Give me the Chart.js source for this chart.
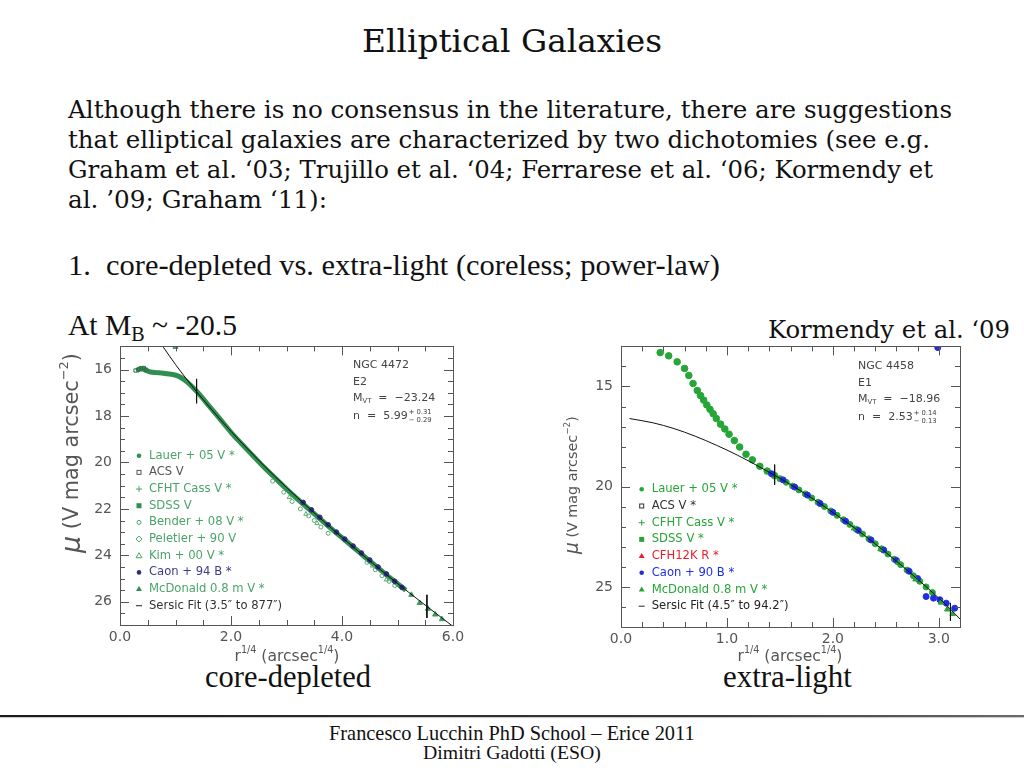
<!DOCTYPE html>
<html>
<head>
<meta charset="utf-8">
<script src="https://cdn.jsdelivr.net/npm/chart.js@4.4.0/dist/chart.umd.min.js"></script>
<style>
  html, body { margin: 0; padding: 0; background: #fff; }
  body { width: 1024px; height: 768px; position: relative; overflow: hidden; }
  .t { position: absolute; white-space: pre; line-height: 1.2; color: #111; left: 0; top: 0; }
  .sa { font-family: "DejaVu Serif", serif; font-stretch: semi-condensed; }
  .sb { font-family: "Liberation Serif", serif; }
  canvas { position: absolute; }
  #rule { position: absolute; left: 0; top: 715px; width: 1024px; height: 2px;
          background: linear-gradient(to right, #1a1a1a, #3a3a3a 70%, #6a6a6a);
          box-shadow: 0 1px 1px #c8c8c8; }
</style>
</head>
<body>
<div class="t sa" data-x="512" data-base="52" data-w="300" data-align="center" style="font-size:31px">Elliptical Galaxies</div>

<div class="t sa" data-x="68" data-base="118" data-w="884" style="font-size:25px">Although there is no consensus in the literature, there are suggestions</div>
<div class="t sa" data-x="68" data-base="148" data-w="862" style="font-size:25px">that elliptical galaxies are characterized by two dichotomies (see e.g.</div>
<div class="t sa" data-x="68" data-base="178" data-w="865" style="font-size:25px">Graham et al. ‘03; Trujillo et al. ‘04; Ferrarese et al. ‘06; Kormendy et</div>
<div class="t sa" data-x="68" data-base="208" data-w="259" style="font-size:25px">al. ’09; Graham ‘11):</div>

<div class="t sb" data-x="68" data-base="275" data-w="652" data-fit="size" style="font-size:24px">1.  core-depleted vs. extra-light (coreless; power-law)</div>
<div class="t sb" data-x="68" data-base="335" data-w="169" data-fit="size" style="font-size:24px">At M<span style="font-size:0.68em;vertical-align:-0.3em">B</span> ~ -20.5</div>
<div class="t sa" data-x="768" data-base="338" data-w="242" style="font-size:25px">Kormendy et al. ‘09</div>

<div class="t sb" data-x="205" data-base="687" data-w="166" data-fit="size" style="font-size:24px">core-depleted</div>
<div class="t sb" data-x="723" data-base="687" data-w="129" data-fit="size" style="font-size:24px">extra-light</div>

<div id="rule"></div>
<div class="t sb" data-x="512" data-base="740" data-w="366" data-align="center" data-fit="size" style="font-size:16px">Francesco Lucchin PhD School – Erice 2011</div>
<div class="t sb" data-x="512" data-base="759" data-w="178" data-align="center" data-fit="size" style="font-size:16px">Dimitri Gadotti (ESO)</div>

<canvas id="leftChart" width="420" height="340" style="left:55px;top:330px;width:420px;height:340px"></canvas>
<canvas id="rightChart" width="420" height="340" style="left:555px;top:330px;width:420px;height:340px"></canvas>

<script>
// ---------- NGC 4472 (core-depleted) ----------
const leftXTicks = [0, 2, 4, 6];
const leftYTicks = [16, 18, 20, 22, 24, 26];

const leftBandX = [0.30, 0.36, 0.42, 0.48, 0.55, 0.65, 0.75, 0.85, 0.95, 1.05, 1.15, 1.25, 1.35, 1.45, 1.60, 1.80, 2.00, 2.20, 2.40, 2.60, 2.80, 3.00, 3.20, 3.40, 3.60, 3.80, 4.00, 4.20, 4.40, 4.60, 4.80, 5.00, 5.15];
const leftBandY = [16.05, 15.96, 15.98, 16.05, 16.10, 16.13, 16.15, 16.18, 16.21, 16.28, 16.42, 16.62, 16.86, 17.12, 17.55, 18.12, 18.70, 19.22, 19.72, 20.22, 20.68, 21.14, 21.58, 22.00, 22.42, 22.84, 23.24, 23.64, 24.05, 24.44, 24.84, 25.22, 25.50];

const leftAcsX = [0.28, 0.33, 0.38, 0.43, 0.47];
const leftAcsY = [16.04, 16.00, 15.94, 15.93, 16.00];

const leftBenderX = [2.75, 2.95, 3.10, 3.25, 3.40, 3.50, 3.62, 3.75, 4.45, 4.60, 4.72, 4.85, 4.95];
const leftBenderY = [20.80, 21.28, 21.68, 22.00, 22.30, 22.50, 22.78, 23.05, 24.30, 24.62, 24.88, 25.12, 25.30];

const leftKimX = [3.05, 3.35, 3.55, 4.55, 4.80];
const leftKimY = [21.50, 22.22, 22.62, 24.45, 25.05];

const leftCaonX = [3.30, 3.45, 3.60, 3.75, 3.90, 4.05, 4.20, 4.35, 4.50, 4.65, 4.80, 4.95, 5.08];
const leftCaonY = [21.72, 22.04, 22.36, 22.68, 23.00, 23.30, 23.60, 23.90, 24.20, 24.50, 24.80, 25.12, 25.38];

const leftMcdX = [5.25, 5.40, 5.55, 5.68, 5.80, 1.00];
const leftMcdY = [25.70, 26.05, 26.30, 26.55, 26.75, 15.02];

const leftSersicX = [0.78, 1.00, 1.20, 1.40, 1.60, 1.80, 2.00, 2.40, 2.80, 3.20, 3.60, 4.00, 4.40, 4.80, 5.20, 5.60, 6.00];
const leftSersicY = [15.03, 15.78, 16.41, 17.01, 17.58, 18.13, 18.66, 19.67, 20.62, 21.52, 22.39, 23.23, 24.04, 24.83, 25.59, 26.33, 27.06];

const leftFitMarks = [[1.38, 16.40, 17.45], [5.53, 25.70, 26.70]];

const leftLegend = ["Lauer + 05 V *", "ACS V", "CFHT Cass V *", "SDSS V", "Bender + 08 V *", "Peletier + 90 V", "Kim + 00 V *", "Caon + 94 B *", "McDonald 0.8 m V *", "Sersic Fit (3.5\u2033 to 877\u2033)"];

// ---------- NGC 4458 (extra-light) ----------
const rightXTicks = [0, 1, 2, 3];
const rightYTicks = [15, 20, 25];

const rightLauerX = [0.37, 0.45, 0.53, 0.60, 0.64, 0.68, 0.72, 0.75, 0.78, 0.81, 0.84, 0.87, 0.90, 0.94, 0.98, 1.02, 1.07, 1.12, 1.18, 1.24, 1.31, 1.38, 1.45];
const rightLauerY = [13.31, 13.47, 13.77, 14.10, 14.45, 14.85, 15.20, 15.45, 15.68, 15.92, 16.14, 16.36, 16.60, 16.88, 17.12, 17.38, 17.70, 18.02, 18.38, 18.66, 18.98, 19.22, 19.45];

const rightGreenX = [1.50, 1.56, 1.62, 1.68, 1.74, 1.80, 1.86, 1.92, 1.98, 2.04, 2.10, 2.16, 2.22, 2.28, 2.34, 2.40, 2.46, 2.52, 2.58, 2.64, 2.70, 2.76, 2.82, 2.88, 2.94];
const rightGreenY = [19.60, 19.78, 19.97, 20.16, 20.36, 20.56, 20.78, 20.99, 21.21, 21.43, 21.65, 21.88, 22.12, 22.36, 22.60, 22.85, 23.10, 23.36, 23.62, 23.89, 24.16, 24.44, 24.72, 25.00, 25.28];

const rightCaonX = [1.42, 1.53, 1.64, 1.76, 1.88, 2.00, 2.12, 2.24, 2.36, 2.48, 2.60, 2.72, 2.80, 2.88, 2.95, 3.01, 3.07, 3.15, 2.99];
const rightCaonY = [19.35, 19.66, 20.02, 20.42, 20.84, 21.28, 21.72, 22.18, 22.66, 23.16, 23.68, 24.22, 24.58, 25.48, 25.56, 25.64, 25.81, 26.06, 13.06];

const rightMcdX = [2.20, 2.45, 2.62, 2.78, 3.02, 3.08, 3.13];
const rightMcdY = [22.08, 23.12, 23.80, 24.62, 25.78, 26.12, 26.35];

const rightSersicX = [0.08, 0.30, 0.50, 0.70, 0.90, 1.10, 1.30, 1.50, 1.70, 1.90, 2.10, 2.30, 2.50, 2.70, 2.90, 3.00, 3.10, 3.20];
const rightSersicY = [16.60, 16.81, 17.10, 17.48, 17.93, 18.43, 18.99, 19.58, 20.22, 20.92, 21.66, 22.44, 23.28, 24.16, 25.08, 25.56, 26.06, 26.60];

const rightFitMarks = [[1.45, 18.90, 19.90], [3.11, 25.80, 26.70]];

const rightLegend = ["Lauer + 05 V *", "ACS V *", "CFHT Cass V *", "SDSS V *", "CFH12K R *", "Caon + 90 B *", "McDonald 0.8 m V *", "Sersic Fit (4.5\u2033 to 94.2\u2033)"];

// ---------- slide text placement ----------
function placeText() {
  document.querySelectorAll(".t").forEach((el) => {
    const w = +el.dataset.w;
    const mark = document.createElement("span");
    mark.style.cssText = "display:inline-block;width:0;height:0;vertical-align:baseline";
    el.appendChild(mark);
    let box = el.getBoundingClientRect();
    if (el.dataset.fit === "size") {
      const fs = parseFloat(el.style.fontSize);
      el.style.fontSize = (fs * w / box.width) + "px";
      box = el.getBoundingClientRect();
    } else {
      el.style.transformOrigin = "0 0";
      el.style.transform = `scaleX(${w / box.width})`;
    }
    const baseOff = mark.getBoundingClientRect().top - box.top;
    const x = +el.dataset.x;
    const align = el.dataset.align || "left";
    const left = align === "center" ? x - w / 2 : align === "right" ? x - w : x;
    el.style.left = left + "px";
    el.style.top = (+el.dataset.base - baseOff) + "px";
  });
}
placeText();

// ---------- chart helpers ----------
const pts = (xs, ys) => xs.map((x, i) => ({ x, y: ys[i] }));
const PLOT_FONT = '"DejaVu Sans", sans-serif';

const runsWidth = (ctx, runs, size) =>
  runs.reduce((w, [t, k, , st = ""]) => {
    ctx.font = `${st} ${size * k}px ${PLOT_FONT}`;
    return w + ctx.measureText(t).width;
  }, 0);

const drawRuns = (ctx, runs, x, y, size) => {
  let cx = x;
  runs.forEach(([t, k, dy = 0, st = ""]) => {
    ctx.font = `${st} ${size * k}px ${PLOT_FONT}`;
    ctx.fillText(t, cx, y + dy * size);
    cx += ctx.measureText(t).width;
  });
  return cx;
};

const drawFitted = (ctx, runs, cx, cy, length, rotate) => {
  const size = 20 * length / runsWidth(ctx, runs, 20);
  ctx.save();
  ctx.translate(cx, cy);
  if (rotate) ctx.rotate(-Math.PI / 2);
  ctx.textBaseline = "middle";
  drawRuns(ctx, runs, -length / 2, 0, size);
  ctx.restore();
};

const drawSym = (ctx, kind, x, y, color) => {
  ctx.save();
  ctx.fillStyle = color;
  ctx.strokeStyle = color;
  ctx.lineWidth = 1;
  ctx.beginPath();
  if (kind === "dot") { ctx.arc(x, y, 2.3, 0, Math.PI * 2); ctx.fill(); }
  else if (kind === "ring") { ctx.arc(x, y, 2, 0, Math.PI * 2); ctx.stroke(); }
  else if (kind === "sq") { ctx.strokeRect(x - 2, y - 2, 4, 4); }
  else if (kind === "fsq") { ctx.fillRect(x - 2.5, y - 2.5, 5, 5); }
  else if (kind === "plus") { ctx.moveTo(x - 3, y); ctx.lineTo(x + 3, y); ctx.moveTo(x, y - 3); ctx.lineTo(x, y + 3); ctx.stroke(); }
  else if (kind === "diamond") { ctx.moveTo(x, y - 3); ctx.lineTo(x + 3, y); ctx.lineTo(x, y + 3); ctx.lineTo(x - 3, y); ctx.closePath(); ctx.stroke(); }
  else if (kind === "tri") { ctx.moveTo(x, y - 3); ctx.lineTo(x + 3, y + 2); ctx.lineTo(x - 3, y + 2); ctx.closePath(); ctx.stroke(); }
  else if (kind === "ftri") { ctx.moveTo(x, y - 3); ctx.lineTo(x + 3, y + 2); ctx.lineTo(x - 3, y + 2); ctx.closePath(); ctx.fill(); }
  else if (kind === "dash") { ctx.moveTo(x - 3, y); ctx.lineTo(x + 3, y); ctx.stroke(); }
  ctx.restore();
};

// frame with inward major and minor ticks on all four sides
const framePlugin = {
  id: "frame",
  afterDatasetsDraw(chart, args, o) {
    const { ctx, chartArea: a, scales: { x, y } } = chart;
    ctx.save();
    ctx.strokeStyle = "#555";
    ctx.lineWidth = 1;
    ctx.strokeRect(Math.round(a.left) + 0.5, Math.round(a.top) + 0.5, Math.round(a.right - a.left), Math.round(a.bottom - a.top));
    ctx.beginPath();
    const isMajor = (v, m) => Math.abs(v / m - Math.round(v / m)) < 1e-6;
    for (let i = 0; ; i++) {
      const v = x.min + i * o.xMinor;
      if (v > x.max + 1e-9) break;
      const px = Math.round(x.getPixelForValue(v)) + 0.5;
      const len = isMajor(v, o.xMajor) ? 9 : 5;
      ctx.moveTo(px, a.top); ctx.lineTo(px, a.top + len);
      ctx.moveTo(px, a.bottom); ctx.lineTo(px, a.bottom - len);
    }
    for (let i = 0; ; i++) {
      const v = y.min + i * o.yMinor;
      if (v > y.max + 1e-9) break;
      const py = Math.round(y.getPixelForValue(v)) + 0.5;
      const len = isMajor(v, o.yMajor) ? 9 : 5;
      ctx.moveTo(a.left, py); ctx.lineTo(a.left + len, py);
      ctx.moveTo(a.right, py); ctx.lineTo(a.right - len, py);
    }
    ctx.stroke();
    ctx.restore();
  },
};

// legend, galaxy info and axis titles
const notesPlugin = {
  id: "notes",
  afterDraw(chart, args, o) {
    const { ctx } = chart;
    ctx.save();
    ctx.textBaseline = "middle";
    o.legend.forEach((label, i) => {
      const cy = o.legendTop + i * o.legendStep;
      drawSym(ctx, o.symbols[i], o.legendX, cy, o.symColors[i]);
      ctx.fillStyle = o.textColors[i];
      ctx.font = `11.6px ${PLOT_FONT}`;
      ctx.fillText(label, o.legendX + 10, cy);
    });
    ctx.fillStyle = "#444";
    const [ix, iy] = o.infoAt;
    drawRuns(ctx, [[o.info[0], 1]], ix, iy, 11);
    drawRuns(ctx, [[o.info[1], 1]], ix, iy + 17, 11);
    drawRuns(ctx, [["M", 1], ["VT", 0.62, 0.3], ["  =  " + o.info[2], 1]], ix, iy + 33, 11);
    const nx = drawRuns(ctx, [["n  =  " + o.info[3], 1]], ix, iy + 51, 11);
    drawRuns(ctx, [["+ " + o.info[4], 0.62, -0.38]], nx + 1, iy + 51, 11);
    drawRuns(ctx, [["\u2212 " + o.info[5], 0.62, 0.38]], nx + 1, iy + 51, 11);
    ctx.fillStyle = "#555";
    drawFitted(ctx, [["\u03bc", 1.3, 0, "italic"], [" (V mag arcsec", 1], ["\u22122", 0.62, -0.4], [")", 1]], o.yTitle[0], o.yTitle[1], o.yTitle[2], true);
    drawFitted(ctx, [["r", 1], ["1/4", 0.62, -0.4], [" (arcsec", 1], ["1/4", 0.62, -0.4], [")", 1]], o.xTitle[0], o.xTitle[1], o.xTitle[2], false);
    ctx.restore();
  },
};

const fitMarkSets = (marks) =>
  marks.map(([x, y0, y1]) => ({
    data: [{ x, y: y0 }, { x, y: y1 }],
    showLine: true, borderColor: "#111", borderWidth: 1, pointRadius: 0,
  }));

const makeChart = (id, datasets, ax, notes) =>
  new Chart(document.getElementById(id), {
    type: "scatter",
    data: { datasets },
    options: {
      responsive: false,
      animation: false,
      events: [],
      layout: { padding: ax.padding },
      plugins: { legend: { display: false }, tooltip: { enabled: false }, frame: ax.frame, notes },
      scales: {
        x: {
          type: "linear", min: ax.xMin, max: ax.xMax,
          grid: { display: false, drawTicks: false }, border: { display: false },
          afterBuildTicks: (s) => { s.ticks = ax.xTicks.map((value) => ({ value })); },
          afterFit: (s) => { s.height = ax.xHeight; },
          ticks: { padding: 4, color: "#555", font: { family: PLOT_FONT, size: 14 }, maxRotation: 0, callback: (v) => v.toFixed(1) },
        },
        y: {
          type: "linear", min: ax.yMin, max: ax.yMax, reverse: true,
          grid: { display: false, drawTicks: false }, border: { display: false },
          afterBuildTicks: (s) => { s.ticks = ax.yTicks.map((value) => ({ value })); },
          afterFit: (s) => { s.width = ax.yWidth; },
          ticks: { padding: 8, color: "#555", font: { family: PLOT_FONT, size: 14 }, callback: (v) => String(v) },
        },
      },
    },
    plugins: [framePlugin, notesPlugin],
  });

const GREEN_L = "#2e8f50";
const NAVY = "#2b2d80";

makeChart(
  "leftChart",
  [
    { data: pts(leftSersicX, leftSersicY), showLine: true, borderColor: "#111", borderWidth: 1, pointRadius: 0, cubicInterpolationMode: "monotone" },
    ...fitMarkSets(leftFitMarks),
    { data: pts(leftMcdX, leftMcdY), pointStyle: "triangle", pointRadius: 3, backgroundColor: "#3a9a5c", borderColor: "#3a9a5c" },
    { data: pts(leftCaonX, leftCaonY), pointRadius: 2.3, backgroundColor: NAVY, borderColor: NAVY },
    { data: pts(leftKimX, leftKimY), pointStyle: "triangle", pointRadius: 2.5, backgroundColor: "rgba(0,0,0,0)", borderColor: "#5aaa70", borderWidth: 1 },
    { data: pts(leftBenderX, leftBenderY), pointRadius: 2, backgroundColor: "rgba(0,0,0,0)", borderColor: "#5aaa70", borderWidth: 1 },
    { data: pts(leftAcsX, leftAcsY), pointStyle: "rect", pointRadius: 2.3, backgroundColor: "rgba(0,0,0,0)", borderColor: "#2f6f45", borderWidth: 1 },
    { data: pts(leftBandX, leftBandY), showLine: true, borderColor: GREEN_L, borderWidth: 5, pointRadius: 0, cubicInterpolationMode: "monotone" },
  ],
  {
    xMin: 0, xMax: 6, yMin: 15, yMax: 27, xTicks: leftXTicks, yTicks: leftYTicks,
    padding: { left: 0, right: 22, top: 16, bottom: 0 }, yWidth: 65, xHeight: 45,
    frame: { xMinor: 0.5, xMajor: 2, yMinor: 0.5, yMajor: 2 },
  },
  {
    legend: leftLegend,
    symbols: ["dot", "sq", "plus", "fsq", "ring", "diamond", "tri", "dot", "ftri", "dash"],
    symColors: [GREEN_L, "#555", "#4aa468", GREEN_L, "#4aa468", "#4aa468", "#4aa468", NAVY, GREEN_L, "#222"],
    textColors: ["#4aa468", "#555", "#4aa468", "#4aa468", "#4aa468", "#4aa468", "#4aa468", "#3b3d8c", "#4aa468", "#333"],
    legendX: 84, legendTop: 125.7, legendStep: 16.67,
    info: ["NGC 4472", "E2", "\u221223.24", "5.99", "0.31", "0.29"], infoAt: [298, 35],
    yTitle: [18, 123, 200], xTitle: [232, 327, 105],
  }
);

const GREEN_R = "#26a637";
const BLUE = "#1f2ee6";

makeChart(
  "rightChart",
  [
    { data: pts(rightSersicX, rightSersicY), showLine: true, borderColor: "#111", borderWidth: 1, pointRadius: 0, cubicInterpolationMode: "monotone" },
    ...fitMarkSets(rightFitMarks),
    { data: pts(rightMcdX, rightMcdY), pointStyle: "triangle", pointRadius: 3.2, backgroundColor: GREEN_R, borderColor: GREEN_R },
    { data: pts(rightCaonX, rightCaonY), pointRadius: 3, backgroundColor: BLUE, borderColor: BLUE },
    { data: pts(rightGreenX, rightGreenY), pointRadius: 3, backgroundColor: GREEN_R, borderColor: GREEN_R },
    { data: pts(rightLauerX, rightLauerY), pointRadius: 3.3, backgroundColor: GREEN_R, borderColor: GREEN_R },
  ],
  {
    xMin: 0, xMax: 3.2, yMin: 13, yMax: 27, xTicks: rightXTicks, yTicks: rightYTicks,
    padding: { left: 0, right: 15, top: 14, bottom: 0 }, yWidth: 66, xHeight: 43,
    frame: { xMinor: 0.2, xMajor: 1, yMinor: 1, yMajor: 5 },
  },
  {
    legend: rightLegend,
    symbols: ["dot", "sq", "plus", "fsq", "ftri", "dot", "ftri", "dash"],
    symColors: [GREEN_R, "#333", GREEN_R, GREEN_R, "#e8202a", BLUE, GREEN_R, "#222"],
    textColors: [GREEN_R, "#333", GREEN_R, GREEN_R, "#e8202a", BLUE, GREEN_R, "#222"],
    legendX: 86.7, legendTop: 159.3, legendStep: 16.7,
    info: ["NGC 4458", "E1", "\u221218.96", "2.53", "0.14", "0.13"], infoAt: [303, 36],
    yTitle: [18, 155, 138], xTitle: [235, 327, 105],
  }
);
</script>
</body>
</html>
